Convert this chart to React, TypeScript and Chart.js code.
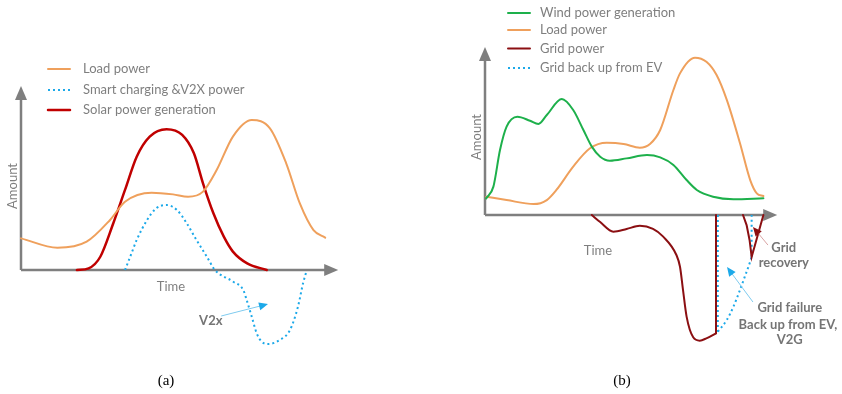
import React, { useEffect, useRef } from "react";
import { Chart, registerables } from "chart.js";

Chart.register(...registerables);

// ---------- Panel (a): solar generation with smart charging / V2X ----------
const loadATime = [0, 2.8, 5.05, 6.85, 8, 10.05, 11.7, 12.85, 14, 15.05, 16.3, 17.75, 19.15, 20.4, 21.45, 22.5, 23.4];
const loadAValue = [17.2, 12.1, 15.4, 27.2, 37.1, 42, 41.1, 39.8, 42.6, 54.3, 72.5, 81.5, 77, 58, 36.2, 21.7, 17.6];
const solarATime = [4.3, 5.2, 6.1, 7.1, 8, 8.9, 9.9, 11.2, 12.4, 13.3, 14, 14.8, 15.6, 16.3, 17.4, 18.9];
const solarAValue = [0, 0.9, 7.2, 25.4, 43.5, 61.6, 72.5, 76.5, 73.4, 63.4, 47.1, 30.8, 18.1, 10, 3.6, 0];
const v2xATime = [8, 8.4, 8.9, 9.7, 10.4, 11.2, 12, 12.75, 13.5, 14.3, 14.92, 16.33, 17.1, 17.36, 17.75, 18.13, 18.52, 19.02, 19.92, 20.69, 21.3, 21.7, 21.92];
const v2xAValue = [0, 7.2, 16.3, 27.2, 33.5, 35.3, 32.6, 25.4, 16.3, 7.2, 0, -6.4, -10.9, -16.3, -25.4, -34.4, -39, -40.2, -38, -32.6, -20.1, -7.1, -1.6];
const legendALabels = ["Load power", "Smart charging &V2X power", "Solar power generation"];

// ---------- Panel (b): wind generation, grid failure and V2G back-up ----------
const windBTime = [0.1, 0.7, 1.25, 1.8, 2.7, 3.75, 4.45, 5.15, 6.4, 7.35, 8.2, 8.9, 9.6, 10.4, 11.8, 13.5, 14.6, 15.7, 16.8, 17.65, 19, 20.7, 23.2];
const windBValue = [9.9, 16.9, 38.7, 52.6, 58.5, 56.1, 54.2, 59.5, 69, 62.5, 50.6, 40.7, 34.7, 32.3, 33.7, 35.7, 34.3, 29.8, 20.8, 14.9, 10.9, 9.4, 9.9];
const loadBTime = [0.1, 1.8, 4.05, 5.15, 5.95, 7.35, 8.75, 10.15, 11.55, 12.9, 13.75, 14.6, 15.7, 16.25, 17.5, 18.45, 19.3, 20.15, 21.25, 22.1, 22.65, 23.2];
const loadBValue = [10.9, 8.9, 6.5, 8.9, 14.9, 28.8, 39.7, 43, 42.3, 40.1, 42.3, 50.6, 74.4, 84.3, 93.6, 91.2, 83.3, 68.5, 42.7, 20.8, 12.9, 11.3];
const gridBTime = [8.9, 9.6, 10.7, 11.8, 12.9, 14, 14.85, 15.95, 16.25, 16.5, 16.8, 17.35, 17.9, 18.45, 19.25];
const gridBValue = [0, -4.2, -9.9, -8.3, -6.4, -8.3, -12.9, -23.8, -30.8, -44.6, -60.5, -72.8, -74.8, -73.4, -70.4];
const gridDropTime = [19.25, 19.25];
const gridDropValue = [-70.4, 0];
const gridDipTime = [21.5, 21.8, 22.05, 22.22, 23.2];
const gridDipValue = [0, -6, -15, -25, 0];
const backupDropTime = [19.4, 19.4];
const backupDropValue = [0, -69.5];
const backupCurveTime = [19.4, 20.15, 20.7, 21.25, 21.65, 22.05, 22.22];
const backupCurveValue = [-69.5, -62.5, -54.6, -44.6, -36.7, -28.8, -24.8];
const backupRiseTime = [22.22, 22.22];
const backupRiseValue = [-24.8, 0];
const legendBLabels = ["Wind power generation", "Load power", "Grid power", "Grid back up from EV"];

const C = {
  load: "#EFA05C",
  solar: "#C00000",
  v2x: "#1CA9E9",
  wind: "#1DB04B",
  grid: "#8B0F12",
  axis: "#7F7F7F",
  text: "#7F7F7F",
  note: "#757575",
};
const FONT = "Lato, 'Open Sans', sans-serif";
const DOT = [2, 3];

function pts(xs: number[], ys: number[]) {
  return xs.map((x, i) => ({ x, y: ys[i] }));
}

function curve(label: string, xs: number[], ys: number[], color: string, width: number, dash: number[] = []) {
  return {
    label,
    data: pts(xs, ys),
    borderColor: color,
    backgroundColor: color,
    borderWidth: width,
    borderDash: dash,
    borderCapStyle: dash.length ? "butt" : "round",
    cubicInterpolationMode: "monotone",
    tension: 0.4,
    fill: false,
    pointRadius: 0,
    clip: false,
  };
}
function straight(xs: number[], ys: number[], color: string, width: number, dash: number[] = []) {
  return { ...curve("", xs, ys, color, width, dash), cubicInterpolationMode: "default", tension: 0 };
}

function head(ctx: CanvasRenderingContext2D, x1: number, y1: number, x2: number, y2: number, len: number, half: number, color: string) {
  const a = Math.atan2(y2 - y1, x2 - x1);
  const bx = x2 - len * Math.cos(a), by = y2 - len * Math.sin(a);
  ctx.save();
  ctx.fillStyle = color;
  ctx.beginPath();
  ctx.moveTo(x2, y2);
  ctx.lineTo(bx + half * Math.sin(a), by - half * Math.cos(a));
  ctx.lineTo(bx - half * Math.sin(a), by + half * Math.cos(a));
  ctx.closePath();
  ctx.fill();
  ctx.restore();
}

interface LegendRow { label: string; color: string; dash: number[]; width: number; y: number }
interface Note { text: string; x: number; y: number; data?: boolean; bold?: boolean; size?: number; color?: string; rotate?: boolean; serif?: boolean }
interface Pointer { from: [number, number]; to: [number, number]; color: string; headColor: string }
interface PanelCfg {
  datasets: any[];
  padding: { left: number; right: number; top: number; bottom: number };
  yMin: number;
  xTip: number;
  legend: { x0: number; x1: number; tx: number; rows: LegendRow[] };
  notes: Note[];
  pointers: Pointer[];
}

function decor(cfg: PanelCfg) {
  return {
    id: "decor",
    beforeDatasetsDraw(chart: any) {
      const { ctx } = chart;
      const xs = chart.scales.x, ys = chart.scales.y;
      const ox = xs.getPixelForValue(0), oy = ys.getPixelForValue(0);
      const tx = xs.getPixelForValue(cfg.xTip), ty = ys.getPixelForValue(100);
      ctx.save();
      ctx.strokeStyle = C.axis;
      ctx.lineWidth = 2.5;
      ctx.beginPath();
      ctx.moveTo(ox, oy);
      ctx.lineTo(tx - 10, oy);
      ctx.moveTo(ox, oy);
      ctx.lineTo(ox, ty + 10);
      ctx.stroke();
      ctx.restore();
      head(ctx, ox, oy, tx, oy, 14, 6, C.axis);
      head(ctx, ox, oy, ox, ty, 14, 6, C.axis);
    },
    afterDraw(chart: any) {
      const { ctx } = chart;
      const xs = chart.scales.x, ys = chart.scales.y;
      const lg = cfg.legend;
      for (const r of lg.rows) {
        ctx.save();
        ctx.strokeStyle = r.color;
        ctx.lineWidth = r.width;
        ctx.setLineDash(r.dash);
        ctx.lineCap = r.dash.length ? "butt" : "round";
        ctx.beginPath();
        ctx.moveTo(lg.x0, r.y);
        ctx.lineTo(lg.x1, r.y);
        ctx.stroke();
        ctx.setLineDash([]);
        ctx.fillStyle = C.text;
        ctx.font = `13px ${FONT}`;
        ctx.textBaseline = "middle";
        ctx.textAlign = "left";
        ctx.fillText(r.label, lg.tx, r.y);
        ctx.restore();
      }
      for (const p of cfg.pointers) {
        const x1 = xs.getPixelForValue(p.from[0]), y1 = ys.getPixelForValue(p.from[1]);
        const x2 = xs.getPixelForValue(p.to[0]), y2 = ys.getPixelForValue(p.to[1]);
        const a = Math.atan2(y2 - y1, x2 - x1);
        ctx.save();
        ctx.strokeStyle = p.color;
        ctx.lineWidth = 1;
        ctx.beginPath();
        ctx.moveTo(x1, y1);
        ctx.lineTo(x2 - 6 * Math.cos(a), y2 - 6 * Math.sin(a));
        ctx.stroke();
        ctx.restore();
        head(ctx, x1, y1, x2, y2, 9, 4, p.headColor);
      }
      for (const n of cfg.notes) {
        const x = n.data ? xs.getPixelForValue(n.x) : n.x;
        const y = n.data ? ys.getPixelForValue(n.y) : n.y;
        ctx.save();
        ctx.fillStyle = n.color || C.text;
        ctx.font = n.serif
          ? `${n.size || 15}px 'Liberation Serif', 'Times New Roman', serif`
          : `${n.bold ? "bold " : ""}${n.size || 13}px ${FONT}`;
        ctx.textAlign = "center";
        ctx.textBaseline = "middle";
        ctx.translate(x, y);
        if (n.rotate) ctx.rotate(-Math.PI / 2);
        ctx.fillText(n.text, 0, 0);
        ctx.restore();
      }
    },
  };
}

const panelA: PanelCfg = {
  datasets: [
    curve(legendALabels[0], loadATime, loadAValue, C.load, 2),
    curve(legendALabels[2], solarATime, solarAValue, C.solar, 2.5),
    curve(legendALabels[1], v2xATime, v2xAValue, C.v2x, 2, DOT),
  ],
  padding: { left: 21, right: 88, top: 86, bottom: 41.2 },
  yMin: -45,
  xTip: 24.4,
  legend: {
    x0: 48, x1: 70, tx: 83,
    rows: [
      { label: legendALabels[0], color: C.load, dash: [], width: 2, y: 69 },
      { label: legendALabels[1], color: C.v2x, dash: DOT, width: 2, y: 90 },
      { label: legendALabels[2], color: C.solar, dash: [], width: 2.5, y: 110 },
    ],
  },
  notes: [
    { text: "Amount", x: 13, y: 186, rotate: true },
    { text: "Time", x: 171, y: 287 },
    { text: "(a)", x: 166, y: 381, serif: true, color: "#000" },
    { text: "V2x", x: 14.6, y: -27.7, data: true, bold: true, color: C.note },
  ],
  pointers: [{ from: [15.4, -25], to: [19, -18.5], color: "#7FCBEF", headColor: C.v2x }],
};

const panelB: PanelCfg = {
  datasets: [
    curve(legendBLabels[0], windBTime, windBValue, C.wind, 2),
    curve(legendBLabels[1], loadBTime, loadBValue, C.load, 2),
    curve(legendBLabels[2], gridBTime, gridBValue, C.grid, 2),
    straight(gridDropTime, gridDropValue, C.grid, 2),
    straight(gridDipTime, gridDipValue, C.grid, 2),
    straight(backupDropTime, backupDropValue, C.v2x, 2, DOT),
    curve(legendBLabels[3], backupCurveTime, backupCurveValue, C.v2x, 2, DOT),
    straight(backupRiseTime, backupRiseValue, C.v2x, 2, DOT),
  ],
  padding: { left: 64, right: 69, top: 47, bottom: 44.6 },
  yMin: -80,
  xTip: 24.35,
  legend: {
    x0: 87, x1: 109, tx: 119,
    rows: [
      { label: legendBLabels[0], color: C.wind, dash: [], width: 2, y: 13 },
      { label: legendBLabels[1], color: C.load, dash: [], width: 2, y: 30 },
      { label: legendBLabels[2], color: C.grid, dash: [], width: 2, y: 48.5 },
      { label: legendBLabels[3], color: C.v2x, dash: DOT, width: 2, y: 68 },
    ],
  },
  notes: [
    { text: "Amount", x: 56, y: 137, rotate: true },
    { text: "Time", x: 177, y: 251 },
    { text: "(b)", x: 201, y: 381, serif: true, color: "#000" },
    { text: "Grid", x: 24.9, y: -19.6, data: true, bold: true, color: C.note },
    { text: "recovery", x: 24.9, y: -28.6, data: true, bold: true, color: C.note },
    { text: "Grid failure", x: 25.4, y: -55.4, data: true, bold: true, color: C.note },
    { text: "Back up from EV,", x: 25.25, y: -65.5, data: true, bold: true, color: C.note },
    { text: "V2G", x: 25.4, y: -74.4, data: true, bold: true, color: C.note },
  ],
  pointers: [
    { from: [23.58, -17.9], to: [22.33, -7.1], color: "#D9A3A3", headColor: C.grid },
    { from: [22.33, -51.8], to: [20.17, -31], color: "#7FCBEF", headColor: C.v2x },
  ],
};

function Panel({ cfg, left }: { cfg: PanelCfg; left: number }) {
  const ref = useRef<HTMLCanvasElement>(null);
  useEffect(() => {
    const chart = new Chart(ref.current as HTMLCanvasElement, {
      type: "line",
      data: { datasets: cfg.datasets },
      options: {
        responsive: false,
        animation: false,
        events: [],
        layout: { padding: cfg.padding },
        plugins: { legend: { display: false }, tooltip: { enabled: false } },
        scales: {
          x: { type: "linear", display: false, min: 0, max: 24 },
          y: { type: "linear", display: false, min: cfg.yMin, max: 100 },
        },
      },
      plugins: [decor(cfg)],
    } as any);
    return () => chart.destroy();
  }, [cfg]);
  return (
    <canvas
      ref={ref}
      width={421}
      height={394}
      style={{ position: "absolute", left, top: 0, width: 421, height: 394 }}
    />
  );
}

export default function App() {
  return (
    <div style={{ position: "fixed", left: 0, top: 0, width: 842, height: 394, background: "#fff", overflow: "hidden" }}>
      <Panel cfg={panelA} left={0} />
      <Panel cfg={panelB} left={421} />
    </div>
  );
}
